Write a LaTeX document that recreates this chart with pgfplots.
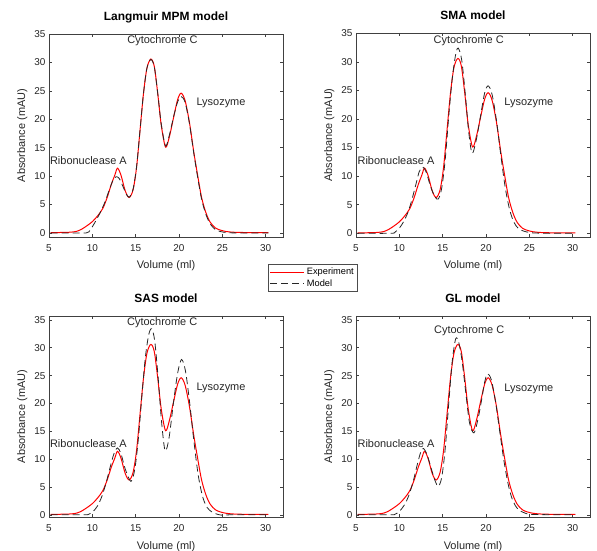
\documentclass[border=0pt]{standalone}
\usepackage{fontspec}
\setmainfont{Liberation Sans}
\usepackage{pgfplots}
\usepackage{pgfplotstable}
\pgfplotsset{compat=1.18}

% experiment (same trace in every panel)
\pgfplotstableread{
x y
5.2 0.05
6.5 0.1
7.5 0.15
8.2 0.3
8.8 0.7
9.4 1.3
10 2.0
10.6 3.0
11.2 4.3
11.7 6.2
12.2 8.6
12.6 10.2
12.9 11.4
13.3 10.2
13.8 7.4
14.25 6.25
14.7 7.6
15.1 11.5
15.5 18
15.9 24.5
16.3 29
16.75 30.6
17.15 29.3
17.55 24.5
17.95 19
18.45 15.1
18.9 17
19.4 20.5
19.85 23.5
20.25 24.6
20.7 23.3
21.2 19.5
21.7 14.3
22.1 10.6
22.6 6.3
23.1 3.6
23.6 1.9
24.2 0.9
24.8 0.5
25.5 0.25
26.5 0.12
28 0.08
30.3 0.05
}\expdata

\pgfplotstableread{
x y
5.2 0.02
8 0.02
9.3 0.02
9.6 0.2
10 1.1
10.5 2.4
11 3.9
11.5 5.6
12 7.8
12.4 9.3
12.75 9.9
13.1 9.6
13.5 8.3
13.9 6.9
14.25 6.3
14.7 7.7
15.1 11.6
15.5 18
15.9 24.5
16.3 29
16.75 30.5
17.15 29.2
17.55 24.5
17.95 19.2
18.45 15.3
18.9 17.3
19.4 20.6
19.85 23.1
20.25 24.0
20.7 23.0
21.2 19.3
21.7 14.1
22.1 10.3
22.6 6.0
23.1 3.3
23.6 1.6
24.2 0.6
24.8 0.25
25.5 0.08
26.5 0.02
30.3 0.02
}\mpmdata

\pgfplotstableread{
x y
5.2 0
9 0
9.5 0.2
10 0.9
10.4 1.8
10.9 3.3
11.4 5.6
11.9 8.5
12.3 10.8
12.7 11.6
13.1 10.7
13.6 8.2
14.1 6.4
14.5 6.0
14.9 8.0
15.3 13
15.7 20.5
16.1 27
16.5 31.3
16.8 32.4
17.2 30.3
17.6 24.5
18 17.8
18.4 14.0
18.9 16.5
19.4 20.8
19.85 24.6
20.25 25.8
20.7 24.3
21.2 19.8
21.7 13.8
22.2 8.2
22.7 4.3
23.2 2.0
23.7 0.9
24.3 0.4
25 0.15
26 0.03
30.3 0
}\smadata

\pgfplotstableread{
x y
5.2 0
9 0
9.6 0.1
10.1 0.6
10.6 1.6
11.1 3.3
11.6 5.8
12.1 8.8
12.5 11
12.9 12.0
13.3 11.0
13.8 8.2
14.45 6.0
14.9 8.2
15.3 13.5
15.7 21
16.1 28
16.5 32.3
16.85 33.4
17.2 31.2
17.6 24.5
18 16.5
18.4 11.5
18.85 13.8
19.35 20
19.85 25.5
20.3 27.9
20.75 25.8
21.2 20.5
21.7 13.5
22.2 7.3
22.7 3.4
23.2 1.4
23.8 0.5
24.5 0.05
25.2 -0.1
26 0
30.3 0
}\sasdata

\pgfplotstableread{
x y
5.2 0
9 0
9.5 0.1
10 0.6
10.6 1.8
11.1 3.5
11.6 6.0
12.1 9.2
12.5 11.4
12.8 11.9
13.2 10.8
13.7 8.2
14.1 6.2
14.5 5.1
14.9 6.8
15.3 12
15.7 20
16.1 27.5
16.5 31.6
16.85 31.0
17.25 27.5
17.7 21.5
18.1 16.5
18.6 14.7
19.05 17
19.5 20.7
19.8 23.5
20.15 25.3
20.6 24.3
21.1 20.3
21.6 14.8
22.1 9.4
22.6 5.2
23.1 2.5
23.7 1.0
24.5 0.3
25.5 0.05
30.3 0
}\gldata

\pgfplotsset{
  panel/.style={
    scale only axis, width=234bp,
    xmin=5, xmax=32,
    xtick={5,10,...,30}, ytick={0,5,...,35},
    tick align=inside, major tick length=3bp,
    axis line style={draw=black!75, line width=0.5bp},
    tick style={draw=black!75, line width=0.5bp},
    ticklabel style={font=\fontsize{10}{12}\selectfont, text=black!85},
    xticklabel style={anchor=base, yshift=-14.5bp},
    /pgf/number format/assume math mode=true,
    xlabel={Volume (ml)}, ylabel={Absorbance (mAU)},
    xlabel style={font=\fontsize{11}{13}\selectfont, text=black!85,
      at={(axis description cs:0.5,0)}, anchor=base, yshift=-32bp},
    ylabel style={font=\fontsize{11}{13}\selectfont, text=black!85,
      at={(axis description cs:-0.114,0.5)}, anchor=center},
    title style={font=\bfseries\fontsize{12}{14}\selectfont,
      at={(axis description cs:0.5,1)}, anchor=base, yshift=8bp},
  },
  exper/.style={red, line width=1bp, smooth, tension=0.5},
  model/.style={black!85, line width=0.8bp, dash pattern=on 7bp off 4bp, smooth, tension=0.5},
}
\tikzset{annot/.style={anchor=west, inner sep=0, font=\fontsize{11}{13}\selectfont, text=black!85}}

\begin{document}
\begin{tikzpicture}
\useasboundingbox (0,0) rectangle (597bp,551bp);

\begin{axis}[panel, at={(49bp,314bp)}, anchor=south west, height=203bp,
  ymin=-0.7, ymax=35, title={Langmuir MPM model},
  legend style={at={(axis description cs:1.1276,-0.2012)}, anchor=center,
    font=\fontsize{9.3}{10}\selectfont, draw=black!70, line width=0.5bp,
    inner sep=1.8bp, row sep=-1bp, cells={anchor=west}},
  legend image code/.code={\draw[#1] (0bp,0bp) -- (34bp,0bp);}]
\addplot[exper] table {\expdata};
\addlegendentry{Experiment}
\addplot[model] table {\mpmdata};
\addlegendentry{Model}
\node[annot] at (axis cs:14.03,33.9) {Cytochrome C};
\node[annot] at (axis cs:22.0,22.9) {Lysozyme};
\node[annot] at (axis cs:5.1,12.8) {Ribonuclease A};
\end{axis}

\begin{axis}[panel, at={(356bp,314bp)}, anchor=south west, height=204bp,
  ymin=-0.65, ymax=35.05, title={SMA model}]
\addplot[exper] table {\expdata};
\addplot[model] table {\smadata};
\node[annot] at (axis cs:13.94,33.7) {Cytochrome C};
\node[annot] at (axis cs:22.1,22.75) {Lysozyme};
\node[annot] at (axis cs:5.16,12.7) {Ribonuclease A};
\end{axis}

\begin{axis}[panel, at={(49bp,34bp)}, anchor=south west, height=201bp,
  ymin=-0.4, ymax=35.7, title={SAS model}]
\addplot[exper] table {\expdata};
\addplot[model] table {\sasdata};
\node[annot] at (axis cs:14.0,34.5) {Cytochrome C};
\node[annot] at (axis cs:22.0,22.85) {Lysozyme};
\node[annot] at (axis cs:5.1,12.75) {Ribonuclease A};
\end{axis}

\begin{axis}[panel, at={(356bp,34bp)}, anchor=south west, height=201bp,
  ymin=-0.4, ymax=35.7, title={GL model}]
\addplot[exper] table {\expdata};
\addplot[model] table {\gldata};
\node[annot] at (axis cs:14.0,33.1) {Cytochrome C};
\node[annot] at (axis cs:22.1,22.7) {Lysozyme};
\node[annot] at (axis cs:5.16,12.75) {Ribonuclease A};
\end{axis}
\end{tikzpicture}
\end{document}
